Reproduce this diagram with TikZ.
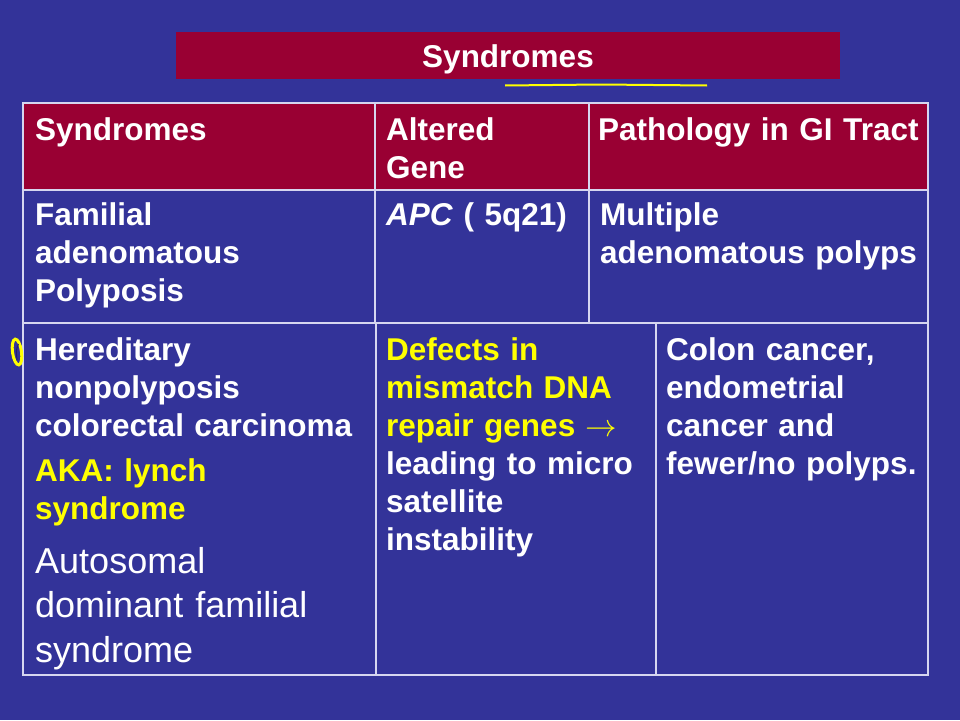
\RequirePackage{fix-cm}
\documentclass[tikz,border=0pt]{standalone}
\usepackage{fontspec}
\setmainfont{Liberation Sans}
\definecolor{slideblue}{RGB}{51,51,153}
\definecolor{slidered}{RGB}{153,0,51}
\definecolor{gridline}{RGB}{214,214,240}
\definecolor{hiyellow}{RGB}{255,255,0}

\begin{document}
\begin{tikzpicture}[x=1pt,y=-1pt,
  cell/.style={anchor=base west, inner sep=0, align=left, text width=#1, text=white,
    font=\bfseries\fontsize{31.5}{38}\selectfont},
  cell/.default=330,
  plaincell/.style={cell=#1, font=\fontsize{36}{44.5}\selectfont},
  rule/.style={gridline, line width=2}]
\useasboundingbox (0,0) rectangle (960,720);
\fill[slideblue] (0,0) rectangle (960,720);
% title bar
\fill[slidered] (176,32) rectangle (840,79);
\node (title) [anchor=base, inner sep=0, text=white, font=\bfseries\fontsize{31.5}{38}\selectfont] at (508,67) {Syndromes};
\draw[hiyellow, line width=2] (505,85.5) -- (600,84.5) -- (707,85.5);
% table
\fill[slidered] (23,103) rectangle (928,190);
\draw[rule] (23,103) rectangle (928,675);
\draw[rule] (23,190) -- (928,190);
\draw[rule] (23,323) -- (928,323);
\draw[rule] (375,103) -- (375,323);
\draw[rule] (589,103) -- (589,323);
\draw[rule] (376,323) -- (376,675);
\draw[rule] (656,323) -- (656,675);
\node (headA) [cell] at (35,140) {Syndromes};
\node (headB) [cell=200] at (386,140) {Altered\\Gene};
\node (headC) [cell] at (598,140) {Pathology in GI Tract};
\node (fapName) [cell] at (35,225) {Familial\\adenomatous\\Polyposis};
\node (fapGene) [cell=200] at (386,225) {\textit{APC} ( 5q21)};
\node (fapPath) [cell] at (600,225) {Multiple\\adenomatous polyps};
\node (hnpName) [cell] at (35,360) {Hereditary\\nonpolyposis\\colorectal carcinoma};
\node (hnpAka) [cell, text=hiyellow] at (35,481) {AKA: lynch\\syndrome};
\node (hnpNote) [plaincell=330] at (35,573) {Autosomal\\dominant familial\\syndrome};
\node (hnpGene) [cell=265] at (386,360) {\color{hiyellow}Defects in\\mismatch DNA\\repair genes $\rightarrow$\\\color{white}leading to micro\\satellite\\instability};
\node (hnpPath) [cell=265] at (666,360) {Colon cancer,\\endometrial\\cancer and\\fewer/no polyps.};
% pen mark
\draw[hiyellow, line width=3, rotate around={8:(17,352)}] (17,352) ellipse [x radius=4.5, y radius=13];
\draw[slideblue!70!black, line width=1] (18.5,344) .. controls (16,350) .. (17,360);
\end{tikzpicture}
\end{document}
